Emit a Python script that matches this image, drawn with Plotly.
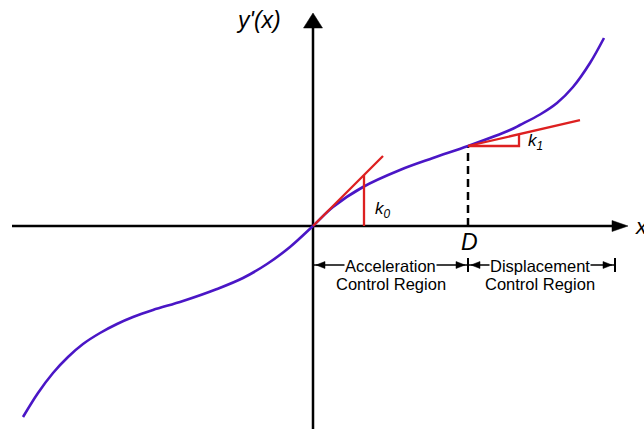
import plotly.graph_objects as go

# ---- data (1 unit = 100 px on both axes, origin at the axes crossing) ----
curve_x = [-2.90, -2.75, -2.60, -2.45, -2.30, -2.13, -1.96, -1.80, -1.60, -1.30,
           -0.96, -0.70, -0.46, -0.23, 0.00, 0.20, 0.50, 0.87, 1.20, 1.55,
           1.97, 2.07, 2.27, 2.44, 2.60, 2.77, 2.91]
curve_y = [-1.91, -1.67, -1.47, -1.31, -1.18, -1.07, -0.98, -0.91, -0.84, -0.75,
           -0.63, -0.52, -0.38, -0.21, 0.00, 0.19, 0.39, 0.56, 0.68, 0.80,
           0.96, 1.01, 1.115, 1.23, 1.39, 1.63, 1.88]

D = 1.55          # boundary between the two control regions
Y_D = 0.80        # y'(D)
K0 = 1.0          # initial slope
K0_LEN = 0.70     # tangent drawn from 0 to this x
K0_RUN = 0.51     # x of the slope marker
K1 = 0.23         # slope at D
K1_LEN = 1.12     # tangent length along x
K1_RUN = 0.51     # horizontal leg of the slope triangle

X_MIN, X_MAX = -3.13, 3.31
Y_MIN, Y_MAX = -2.03, 2.26
AXIS_X_START, AXIS_X_TIP = -3.01, 3.15
AXIS_Y_TIP = 2.13
DIM_Y = -0.39
DIM_END = 3.02

regions = ["Acceleration<br>Control Region", "Displacement<br>Control Region"]

PURPLE = "#4A16C6"
RED = "#DD2020"
BLACK = "#000000"
FONT = "Liberation Sans, Arial, sans-serif"
PX = 0.01  # one pixel in data units

fig = go.Figure()

def seg(xs, ys, color=BLACK, width=2.5, dash=None):
    fig.add_trace(go.Scatter(x=xs, y=ys, mode="lines", hoverinfo="skip",
                             line=dict(color=color, width=width, dash=dash)))

def tri(points, color=BLACK):
    p = "M " + " L ".join(f"{x},{y}" for x, y in points) + " Z"
    fig.add_shape(type="path", path=p, fillcolor=color, line=dict(color=color, width=0.5),
                  xref="x", yref="y")

# axes
seg([AXIS_X_START, AXIS_X_TIP - 14 * PX], [0, 0])
seg([0, 0], [Y_MIN - 0.05, AXIS_Y_TIP - 13 * PX])
tri([(AXIS_X_TIP, 0), (AXIS_X_TIP - 16 * PX, 5.5 * PX), (AXIS_X_TIP - 16 * PX, -5.5 * PX)])
tri([(0, AXIS_Y_TIP), (-9.5 * PX, AXIS_Y_TIP - 15 * PX), (9.5 * PX, AXIS_Y_TIP - 15 * PX)])

# dashed drop line at D
seg([D, D], [0, Y_D], dash="8px,5px")

# the curve
fig.add_trace(go.Scatter(x=curve_x, y=curve_y, mode="lines", hoverinfo="skip",
                         line=dict(color=PURPLE, width=2.6, shape="spline", smoothing=1.0)))

# k0 tangent and marker
seg([0, K0_LEN], [0, K0 * K0_LEN], color=RED, width=2.3)
seg([K0_RUN, K0_RUN], [0, K0 * K0_RUN], color=RED, width=2.3)

# k1 tangent and slope triangle
seg([D, D + K1_LEN], [Y_D, Y_D + K1 * K1_LEN], color=RED, width=2.3)
seg([D, D + K1_RUN, D + K1_RUN], [Y_D, Y_D, Y_D + K1 * K1_RUN], color=RED, width=2.3)

# region dimension lines
seg([0, DIM_END], [DIM_Y, DIM_Y], width=1.5)
for xt in [D, DIM_END]:
    seg([xt, xt], [DIM_Y - 7 * PX, DIM_Y + 7 * PX], width=2)
for x0, x1 in [(0, D), (D, DIM_END)]:
    a, b = x0 + 3 * PX, x1 - 3 * PX
    tri([(a, DIM_Y), (a + 9 * PX, DIM_Y + 3.5 * PX), (a + 9 * PX, DIM_Y - 3.5 * PX)])
    tri([(b, DIM_Y), (b - 9 * PX, DIM_Y + 3.5 * PX), (b - 9 * PX, DIM_Y - 3.5 * PX)])

def label(x, y, text, size, italic=False, bg=None, xanchor="center"):
    fig.add_annotation(x=x, y=y, xref="x", yref="y", text=text, showarrow=False,
                       xanchor=xanchor, yanchor="middle",
                       font=dict(family=FONT, size=size, color=BLACK,
                                 style="italic" if italic else "normal"),
                       bgcolor=bg, borderpad=0)

label(-0.55, 2.06, "y'(x)", 23, italic=True)
label(3.21, 0.0, "x", 22, italic=True, xanchor="left")
label(D + 0.01, -0.16, "D", 23, italic=True)
label(0.70, 0.16, "k<sub>0</sub>", 17, italic=True)
label(2.22, 0.84, "k<sub>1</sub>", 17, italic=True)

centers = [(0 + D) / 2 + 0.2 * PX, (D + DIM_END) / 2 - 1.5 * PX]
for cx, txt in zip(centers, regions):
    top, bottom = txt.split("<br>")
    label(cx, DIM_Y - 0.5 * PX, top, 16.5, bg="white")
    label(cx, DIM_Y - 0.19, bottom, 16.5)

fig.update_layout(
    width=644, height=429, margin=dict(l=0, r=0, t=0, b=0),
    paper_bgcolor="white", plot_bgcolor="white", showlegend=False,
    xaxis=dict(range=[X_MIN, X_MAX], visible=False, fixedrange=True),
    yaxis=dict(range=[Y_MIN, Y_MAX], visible=False, fixedrange=True),
)

fig.write_html("out.html", config={"displayModeBar": False})
